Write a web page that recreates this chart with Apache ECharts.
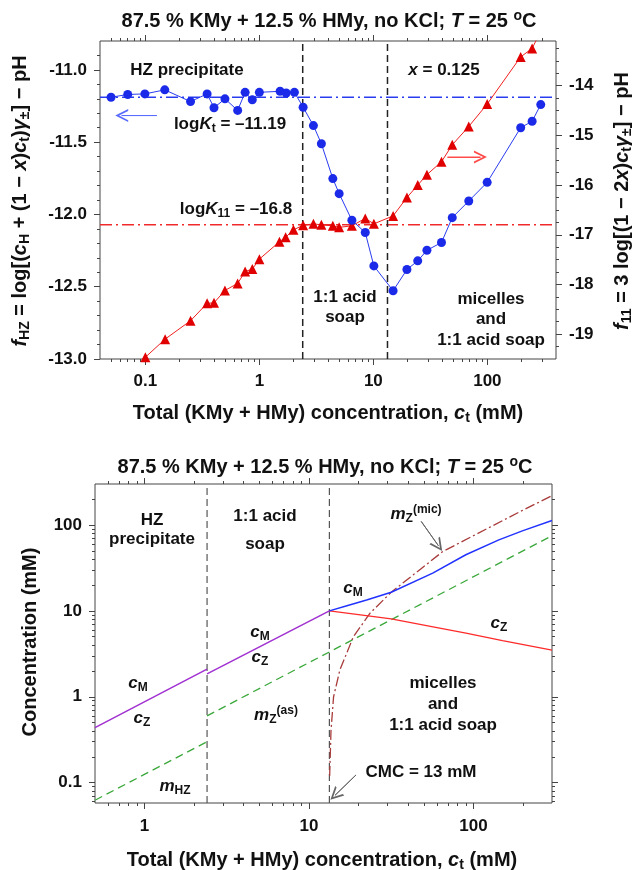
<!DOCTYPE html>
<html>
<head>
<meta charset="utf-8">
<title>KMy + HMy</title>
<script src="https://cdn.jsdelivr.net/npm/echarts@6.0.0/dist/echarts.min.js"></script>
<style>
  html, body { margin: 0; padding: 0; background: #fff; }
  #chart { width: 635px; height: 870px; }
</style>
</head>
<body>
<div id="chart"></div>
<script>
const FONT = 'Liberation Sans, Arial, sans-serif'

// top panel: f_HZ (left axis, circles)
const ctHZ = [0.05, 0.07, 0.099, 0.148, 0.249, 0.348, 0.40, 0.499, 0.645, 0.75, 0.867, 1.0, 1.52, 1.72, 2.03, 2.42, 2.98, 3.5, 4.41, 5.01, 6.48, 8.49, 10.1, 14.9, 19.7, 24.5, 29.5, 39.6, 49.2, 68.7, 99.6, 196, 247, 294]
const fHZ = [-11.189, -11.17, -11.166, -11.138, -11.219, -11.166, -11.262, -11.2, -11.28, -11.155, -11.207, -11.155, -11.148, -11.16, -11.155, -11.258, -11.385, -11.511, -11.752, -11.856, -12.04, -12.125, -12.356, -12.528, -12.381, -12.321, -12.248, -12.194, -12.022, -11.907, -11.778, -11.40, -11.355, -11.24]

// top panel: f_11 (right axis, triangles)
const ct11 = [0.1, 0.149, 0.249, 0.348, 0.40, 0.499, 0.645, 0.75, 0.867, 1.0, 1.5, 1.7, 1.99, 2.42, 2.98, 3.5, 4.41, 5.01, 6.48, 8.49, 10.1, 14.9, 19.7, 24.5, 29.5, 39.6, 49.2, 68.7, 99.6, 196, 247, 294]
const f11 = [-19.465, -19.10, -18.73, -18.38, -18.37, -18.12, -17.98, -17.74, -17.69, -17.49, -17.14, -17.05, -16.90, -16.81, -16.78, -16.80, -16.82, -16.85, -16.82, -16.67, -16.78, -16.62, -16.25, -16.0, -15.79, -15.53, -15.19, -14.82, -14.37, -13.42, -13.25, -12.9]

const logKt = -11.19
const logK11 = -16.8

// phase boundaries, mM (second one is the CMC)
const bounds = [2.4, 13.3]

// bottom panel: HZ precipitate region
const ctPrec = [0.5, 2.4]
const cMZprec = [0.4375, 2.1]
const mHZ = [0.0625, 0.3]
// 1:1 acid soap region
const ctSoap = [2.4, 13.3]
const cMZsoap = [1.85, 10]
const ctAs = [2.4, 300]
const mZas = [0.6, 75]
// micelles region
const ctCM = [13.3, 17, 22.4, 31.6, 56.5, 89.8, 142.6, 200, 300]
const cMmic = [10, 11.5, 13.4, 16.5, 27.5, 45, 67, 86, 113]
const ctCZ = [13.3, 20, 31.6, 60, 90, 150, 300]
const cZmic = [10, 9.05, 8.07, 6.4, 5.5, 4.5, 3.5]
const ctMic = [13.35, 13.6, 14.1, 15.4, 18.6, 23.5, 31.6, 48, 65, 120, 200, 300]
const mZmic = [0.12, 0.4, 1.0, 2.05, 5.0, 9.4, 16.5, 31, 49, 90, 149, 219]

// axis ranges and tick labels
const topXR = [0.04, 400]
const topLR = [-13, -10.8]
const topRR = [-19.5, -13.1]
const botXR = [0.5, 300]
const botYR = [0.058, 300]
const topX = [0.1, 1, 10, 100]
const topL = [-13, -12.5, -12, -11.5, -11]
const topR = [-19, -18, -17, -16, -15, -14]
const botX = [1, 10, 100]
const botY = [0.1, 1, 10, 100]

function pairs(xs, ys) {
  return xs.map((x, i) => [x, ys[i]])
}

function logMinors(lo, hi) {
  let out = []
  for (let d = Math.floor(Math.log10(lo)); d <= Math.ceil(Math.log10(hi)); d++) {
    for (let k = 2; k <= 9; k++) {
      let v = +(k * Math.pow(10, d)).toPrecision(3)
      if (v > lo && v < hi) out.push(v)
    }
  }
  return out
}

function linMinors(lo, hi, step, major) {
  let out = []
  for (let v = lo; v < hi + 1e-9; v += step) {
    let r = +v.toFixed(3)
    if (r > lo && r < hi && Math.abs(r / major - Math.round(r / major)) > 1e-6) out.push(r)
  }
  return out
}

const fmtLog = v => String(+Number(v).toPrecision(2))

function ax(type, grid, pos, range, ticks, len, fmt, margin) {
  return {
    type: type,
    logBase: 10,
    gridIndex: grid,
    position: pos,
    min: range[0],
    max: range[1],
    axisLine: { show: false, onZero: false },
    splitLine: { show: false },
    axisTick: { show: true, length: len, customValues: ticks, lineStyle: { color: '#444', width: 1 } },
    axisLabel: fmt ? {
      customValues: ticks, formatter: fmt, margin: margin,
      color: '#111', fontSize: 17, fontWeight: 'bold', fontFamily: FONT
    } : { show: false }
  }
}

function plain(xi, yi, data, color, width, type) {
  return {
    type: 'line', xAxisIndex: xi, yAxisIndex: yi, data: data, symbol: 'none', silent: true,
    lineStyle: { color: color, width: width, type: type || 'solid' }
  }
}

const CHEVRON = 'path://M5,0L10,10L8.5,10L5,3L1.5,10L0,10Z'

function arrow(xi, yi, from, to, color) {
  return {
    type: 'line', xAxisIndex: xi, yAxisIndex: yi, data: [from, to], symbol: 'none', silent: true,
    lineStyle: { color: color, width: 1 },
    markLine: {
      silent: true, symbol: ['none', CHEVRON], symbolSize: 13, label: { show: false },
      lineStyle: { color: color, width: 1, type: 'solid' },
      data: [[{ coord: from }, { coord: to }]]
    }
  }
}

function richStyle(size) {
  let s = Math.round(size * 0.7)
  let f = { fontFamily: FONT, fontWeight: 'bold', fill: '#111' }
  return {
    i: Object.assign({ fontSize: size, fontStyle: 'italic' }, f),
    sub: Object.assign({ fontSize: s, verticalAlign: 'bottom' }, f),
    sup: Object.assign({ fontSize: s, verticalAlign: 'top' }, f)
  }
}

function txt(x, y, text, size, rotate) {
  size = size || 17
  return {
    type: 'text', x: x, y: y, rotation: rotate ? Math.PI / 2 : 0, silent: true, z: 100,
    style: {
      text: text, fontFamily: FONT, fontWeight: 'bold', fontSize: size, lineHeight: size + 4,
      fill: '#111', align: 'center', verticalAlign: 'middle', rich: richStyle(size)
    }
  }
}

const TITLE = '87.5 % KMy + 12.5 % HMy, no KCl; {i|T} = 25 {sup|o}C'
const XTITLE = 'Total (KMy + HMy) concentration, {i|c}{sub|t} (mM)'

let chart = echarts.init(document.getElementById('chart'))
chart.setOption({
  animation: false,
  backgroundColor: '#fff',
  grid: [
    { left: 100, top: 41, width: 456, height: 318, show: true, borderColor: '#444', borderWidth: 1 },
    { left: 95, top: 484, width: 457, height: 319, show: true, borderColor: '#444', borderWidth: 1 }
  ],
  xAxis: [
    ax('log', 0, 'bottom', topXR, topX, 6, fmtLog, 14),
    ax('log', 0, 'bottom', topXR, logMinors(topXR[0], topXR[1]), 3),
    ax('log', 0, 'top', topXR, topX, 6),
    ax('log', 0, 'top', topXR, logMinors(topXR[0], topXR[1]), 3),
    ax('log', 1, 'bottom', botXR, botX, 6, fmtLog, 15),
    ax('log', 1, 'bottom', botXR, logMinors(botXR[0], botXR[1]), 3),
    ax('log', 1, 'top', botXR, botX, 6),
    ax('log', 1, 'top', botXR, logMinors(botXR[0], botXR[1]), 3)
  ],
  yAxis: [
    ax('value', 0, 'left', topLR, topL, 6, v => Number(v).toFixed(1), 13),
    ax('value', 0, 'left', topLR, linMinors(topLR[0], topLR[1], 0.1, 0.5), 3),
    ax('value', 0, 'right', topRR, topR, 6, v => String(Math.round(v)), 13),
    ax('value', 0, 'right', topRR, linMinors(topRR[0], topRR[1], 0.25, 1), 3),
    ax('log', 1, 'left', botYR, botY, 6, fmtLog, 13),
    ax('log', 1, 'left', botYR, logMinors(botYR[0], botYR[1]), 3),
    ax('log', 1, 'right', botYR, botY, 6),
    ax('log', 1, 'right', botYR, logMinors(botYR[0], botYR[1]), 3)
  ],
  series: [
    // top panel
    plain(0, 0, [[topXR[0], logKt], [topXR[1], logKt]], '#2a3cf0', 1.5, [12, 4, 2, 4]),
    plain(0, 2, [[topXR[0], logK11], [topXR[1], logK11]], '#f02a2a', 1.5, [12, 4, 2, 4]),
    ...bounds.map(b => plain(0, 0, [[b, topLR[0]], [b, topLR[1]]], '#222', 1.5, [7, 4])),
    arrow(0, 0, [0.126, -11.316], [0.062, -11.316], '#5a6cff'),
    arrow(0, 2, [44.7, -15.435], [87, -15.435], '#ff4a4a'),
    {
      type: 'line', xAxisIndex: 0, yAxisIndex: 2, data: pairs(ct11, f11),
      symbol: 'triangle', symbolSize: 10, silent: true,
      itemStyle: { color: '#e00000' }, lineStyle: { color: '#f02020', width: 1 }
    },
    {
      type: 'line', xAxisIndex: 0, yAxisIndex: 0, data: pairs(ctHZ, fHZ),
      symbol: 'circle', symbolSize: 9, silent: true,
      itemStyle: { color: '#1a2ae8' }, lineStyle: { color: '#2a3cf0', width: 1 }
    },
    // bottom panel
    ...bounds.map(b => plain(4, 4, [[b, botYR[0]], [b, botYR[1]]], '#555', 1.2, [7, 4])),
    plain(4, 4, pairs(ctPrec, mHZ), '#3aa83a', 1.3, [8, 5]),
    plain(4, 4, pairs(ctAs, mZas), '#3aa83a', 1.3, [8, 5]),
    plain(4, 4, pairs(ctMic, mZmic), '#a83a3a', 1.3, [10, 3, 2, 3]),
    plain(4, 4, pairs(ctCZ, cZmic), '#ff2a2a', 1.3),
    plain(4, 4, pairs(ctCM, cMmic), '#2233ff', 1.5),
    plain(4, 4, pairs(ctPrec, cMZprec), '#a030d0', 1.5),
    plain(4, 4, pairs(ctSoap, cMZsoap), '#a030d0', 1.5),
    arrow(4, 4, [48.1, 110], [61.2, 57.3], '#666'),
    arrow(4, 4, [19.3, 0.123], [14.4, 0.0714], '#666')
  ],
  graphic: [
    // top panel texts
    txt(329, 21, TITLE, 20),
    txt(328, 413, XTITLE, 20),
    txt(20, 201, '{i|f}{sub|HZ} = log[({i|c}{sub|H} + (1 − {i|x}){i|c}{sub|t}){i|γ}{sub|±}] − pH', 20, true),
    txt(622, 201, '{i|f}{sub|11} = 3 log[(1 − 2{i|x}){i|c}{sub|t}{i|γ}{sub|±}] − pH', 20, true),
    txt(187, 70, 'HZ precipitate'),
    txt(444, 70, '{i|x} = 0.125'),
    txt(230, 124, 'log{i|K}{sub|t} = –11.19'),
    txt(236, 209, 'log{i|K}{sub|11} = –16.8'),
    txt(345, 297, '1:1 acid'),
    txt(345, 317, 'soap'),
    txt(491, 299, 'micelles'),
    txt(491, 319, 'and'),
    txt(491, 340, '1:1 acid soap'),
    // bottom panel texts
    txt(325, 467, TITLE, 20),
    txt(322, 860, XTITLE, 20),
    txt(30, 642, 'Concentration (mM)', 20, true),
    txt(152, 520, 'HZ'),
    txt(152, 539, 'precipitate'),
    txt(265, 516, '1:1 acid'),
    txt(265, 544, 'soap'),
    txt(416, 514, '{i|m}{sub|Z}{sup|(mic)}'),
    txt(353, 588, '{i|c}{sub|M}'),
    txt(499, 623, '{i|c}{sub|Z}'),
    txt(260, 632, '{i|c}{sub|M}'),
    txt(260, 657, '{i|c}{sub|Z}'),
    txt(138, 683, '{i|c}{sub|M}'),
    txt(142, 718, '{i|c}{sub|Z}'),
    txt(175, 786, '{i|m}{sub|HZ}'),
    txt(276, 715, '{i|m}{sub|Z}{sup|(as)}'),
    txt(443, 683, 'micelles'),
    txt(443, 704, 'and'),
    txt(443, 725, '1:1 acid soap'),
    txt(421, 772, 'CMC = 13 mM')
  ]
})
</script>
</body>
</html>
